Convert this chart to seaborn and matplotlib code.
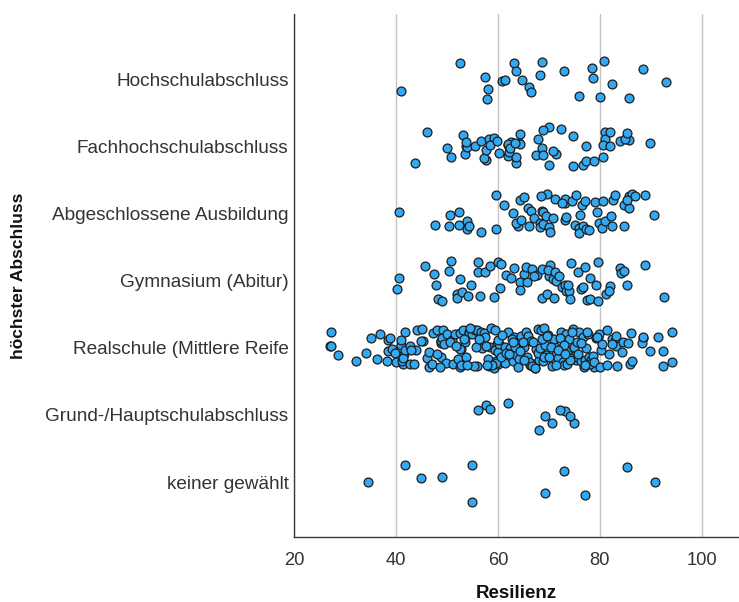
import numpy as np
import pandas as pd
import matplotlib
matplotlib.use("Agg")
import matplotlib.pyplot as plt
import seaborn as sns

categories = [
    "Hochschulabschluss",
    "Fachhochschulabschluss",
    "Abgeschlossene Ausbildung",
    "Gymnasium (Abitur)",
    "Realschule (Mittlere Reife",
    "Grund-/Hauptschulabschluss",
    "keiner gewählt",
]

hochschul = [52.5, 41.0, 57.5, 58.0, 57.8, 60.7, 61.3, 63.2, 63.5, 64.7, 66.1, 66.4,
             68.3, 68.6, 72.9, 75.9, 78.5, 78.6, 80.0, 80.8, 82.3, 85.8, 88.5, 93.0]

fachhoch = [43.8, 46.1, 50.0, 50.8, 53.6, 53.8, 53.2, 54.0, 53.7, 55.5, 56.6, 57.7,
            57.3, 58.2, 57.7, 59.2, 58.4, 59.8, 60.3, 62.5, 62.0, 62.0, 64.1, 63.6,
            64.3, 63.6, 64.3, 62.0, 62.2, 62.4, 63.3, 70.0, 68.8, 67.5, 68.6, 68.8,
            70.0, 71.4, 72.3, 67.8, 70.8, 74.7, 74.8, 76.6, 77.2, 77.2, 78.8, 81.0,
            81.1, 80.7, 80.7, 81.9, 82.0, 84.0, 85.8, 85.0, 85.4, 89.8]

ausbildung = [40.5, 47.6, 50.4, 50.5, 52.3, 52.4, 53.9, 54.0, 54.4, 56.7, 59.7, 59.7,
              61.1, 62.9, 63.9, 63.6, 64.4, 64.5, 65.2, 65.9, 66.1, 66.4, 67.0, 68.2,
              68.3, 68.8, 69.7, 68.6, 68.8, 68.4, 69.5, 70.8, 70.1, 70.3, 71.2, 73.1,
              73.1, 73.2, 72.6, 73.4, 74.5, 75.2, 75.9, 75.4, 76.1, 76.7, 75.9, 76.4,
              77.0, 77.3, 77.9, 79.1, 79.5, 79.9, 80.4, 80.6, 81.0, 82.3, 82.2, 82.6,
              82.9, 84.8, 84.7, 85.7, 86.4, 85.8, 86.8, 85.3, 88.9, 90.7]

gymnasium = [40.2, 40.6, 45.6, 47.4, 47.8, 48.3, 49.1, 50.3, 50.7, 51.9, 52.0, 52.5,
             52.9, 54.2, 54.8, 56.4, 56.0, 56.0, 57.5, 58.4, 59.2, 60.0, 60.4, 60.6,
             61.5, 62.6, 63.1, 64.3, 65.7, 65.2, 64.3, 65.5, 66.7, 67.7, 67.0, 68.6,
             68.6, 69.7, 70.3, 70.0, 69.8, 70.8, 71.2, 71.4, 71.0, 72.0, 72.6, 73.1,
             73.3, 74.4, 74.0, 74.2, 73.8, 75.7, 76.5, 76.3, 76.7, 77.0, 77.5, 78.1,
             78.1, 79.3, 79.7, 79.6, 81.2, 81.9, 81.7, 84.0, 84.2, 84.7, 85.3, 88.9,
             92.6]

realschule = [27.1, 27.2, 27.2, 28.6, 32.1, 34.1, 35.0, 36.3, 36.9, 38.3, 38.5, 38.5,
              39.2, 39.8, 38.8, 40.0, 40.9, 41.3, 41.1, 41.7, 41.5, 41.0, 41.4, 41.8,
              42.7, 42.8, 44.1, 43.9, 45.3, 45.0, 46.0, 43.0, 43.5, 46.5, 44.8, 46.5,
              47.2, 48.0, 48.9, 48.9, 49.3, 49.9, 48.9,
              47.1, 48.0, 48.9, 49.2, 49.1, 48.7, 49.4, 50.0, 50.9, 51.2, 51.5, 52.2,
              52.5, 52.5, 52.8, 53.1, 52.8, 53.5, 53.7, 52.5, 54.3, 54.8, 54.4, 55.0,
              55.4, 55.9, 55.9, 56.7, 56.9, 57.2, 57.4, 58.0, 58.2, 58.4, 58.7, 59.3,
              59.5, 59.8, 59.5, 60.0,
              59.7, 60.0, 60.3, 61.0, 61.3, 59.7, 60.6, 61.9, 60.0, 61.3, 62.3, 62.9,
              63.2, 63.6, 63.9, 64.2, 64.6, 65.2, 65.5, 65.9, 66.2, 66.5, 66.8, 67.5,
              67.8, 68.1, 68.5, 68.8, 69.1, 69.5, 69.8, 70.4, 70.7, 71.1, 71.4, 71.7,
              72.4, 72.7, 73.0, 73.4, 73.7, 74.0, 74.3, 74.7, 75.0, 75.3, 75.6, 76.0,
              76.3, 76.6, 77.0, 77.3, 77.6, 77.9, 78.3, 78.6, 78.9, 79.2, 79.6, 79.9,
              80.2, 80.5,
              50.6, 51.8, 53.3, 54.6, 55.7, 56.3, 57.6, 58.9, 60.8, 61.6, 62.1, 62.7,
              63.4, 64.0, 64.9, 65.7, 66.0, 66.9, 67.2, 67.9, 68.3, 69.0, 69.3, 70.1,
              70.9, 71.3, 72.0, 72.2, 72.9, 73.6, 74.1, 74.9, 75.5, 76.2, 76.8, 77.4,
              78.1, 78.8, 79.4, 63.0, 64.4, 65.1, 66.6, 67.3, 68.7, 69.6, 70.5, 71.8,
              73.2, 74.5, 75.8, 77.1, 57.9, 55.2, 53.9,
              80.0, 81.4, 81.4, 82.4, 83.0, 83.1, 83.4, 84.3, 84.5, 85.6, 85.9, 86.3,
              86.2, 88.4, 88.2, 88.5, 89.9, 91.5, 92.4, 92.4, 94.1, 94.1, 83.1, 82.4,
              81.8]

grund = [56.1, 57.7, 58.4, 61.9, 68.0, 70.6, 73.1, 74.9, 74.2, 69.3, 72.2]

keiner = [34.4, 54.9, 69.2, 77.1, 85.3, 90.8, 49.1, 41.7, 44.8, 54.9, 73.0]

series = [hochschul, fachhoch, ausbildung, gymnasium, realschule, grund, keiner]
df = pd.DataFrame({
    "Resilienz": [v for s in series for v in s],
    "Abschluss": [c for c, s in zip(categories, series) for _ in s],
})

sns.set_style("white")
plt.rcParams["font.family"] = ["Liberation Sans", "DejaVu Sans"]

fig = plt.figure(figsize=(7.39, 6.02), dpi=100)
ax = fig.add_axes([0.398, 0.108, 0.602, 0.869])

np.random.seed(7)
sns.stripplot(data=df, x="Resilienz", y="Abschluss", order=categories,
              jitter=0.3, size=6.4, color="#33a9f2", edgecolor="#1c1c1c",
              linewidth=0.9, ax=ax, zorder=3)

ax.set_xlim(20, 107.3)
ax.set_ylim(6.82, -0.985)
ax.set_xticks([20, 40, 60, 80, 100])
ax.xaxis.grid(True, color="#c4c4c4", linewidth=1.0)
ax.yaxis.grid(False)
ax.set_axisbelow(True)
ax.tick_params(axis="y", length=0, labelsize=13.7, labelcolor="#333333", pad=4)
ax.tick_params(axis="x", length=0, labelsize=13.2, labelcolor="#333333", pad=11)
for side in ["top", "right"]:
    ax.spines[side].set_visible(False)
for side in ["left", "bottom"]:
    ax.spines[side].set_color("#3a3a3a")
    ax.spines[side].set_linewidth(1.0)

ax.set_xlabel("Resilienz", fontsize=13.5, fontweight="bold", labelpad=11, color="#111111")
ax.set_ylabel("höchster Abschluss", fontsize=12.5, fontweight="bold", labelpad=14, color="#111111")

fig.savefig("out.png", dpi=100)
